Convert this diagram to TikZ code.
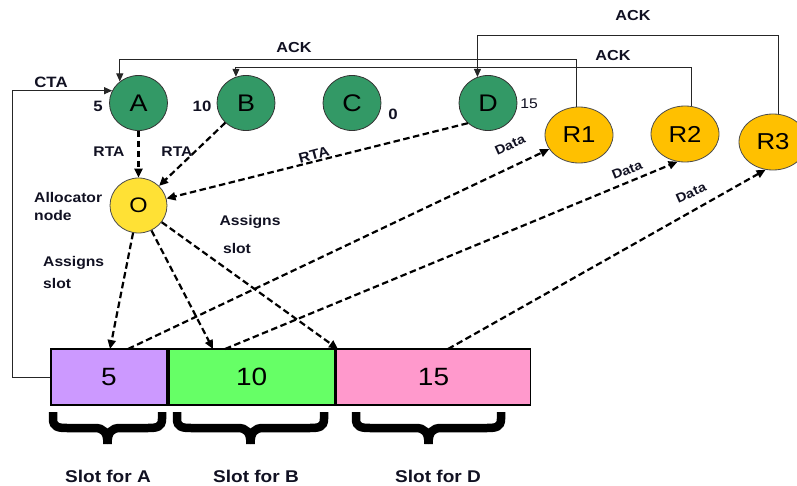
\documentclass[tikz,border=0pt]{standalone}
\usepackage{fontspec}
\setmainfont{Liberation Sans}[FakeStretch=1.12]
\usetikzlibrary{shapes.geometric,arrows.meta}
\definecolor{ngreen}{HTML}{339966}
\definecolor{nyellow}{HTML}{FFE135}
\definecolor{norange}{HTML}{FFC000}
\definecolor{spurple}{HTML}{CC99FF}
\definecolor{sgreen}{HTML}{66FF66}
\definecolor{spink}{HTML}{FF99CC}
\definecolor{txt}{HTML}{111122}
\newcommand{\slotbrace}[2]{%
  \draw[brc] (#1,412) -- (#1,419) .. controls (#1,427) and ({#1+5},428) .. ({#1+14},428)
     -- ({(#1+#2)/2-13},428) .. controls ({(#1+#2)/2-4},428) and ({(#1+#2)/2},432) .. ({(#1+#2)/2},444);
  \draw[brc] (#2,412) -- (#2,419) .. controls (#2,427) and ({#2-5},428) .. ({#2-14},428)
     -- ({(#1+#2)/2+13},428) .. controls ({(#1+#2)/2+4},428) and ({(#1+#2)/2},432) .. ({(#1+#2)/2},444);
}
\begin{document}
\begin{tikzpicture}[x=1pt,y=-1pt,
  gnode/.style={ellipse,draw=black!80,line width=0.8pt,fill=ngreen,minimum width=58pt,minimum height=55pt,inner sep=0pt,font=\fontsize{24}{26}\selectfont},
  rnode/.style={ellipse,draw=black!70,line width=0.8pt,fill=norange,minimum width=68pt,minimum height=56pt,inner sep=0pt,font=\fontsize{23}{25}\selectfont},
  onode/.style={ellipse,draw=black!70,line width=0.8pt,fill=nyellow,minimum width=57pt,minimum height=55pt,inner sep=0pt,font=\fontsize{21}{23}\selectfont},
  slotbox/.style={rectangle,draw=black,line width=1.8pt,minimum height=56pt,inner sep=0pt,anchor=west,font=\fontsize{25}{27}\selectfont},
  lbl/.style={font=\bfseries\fontsize{14}{16}\selectfont,text=txt,inner sep=0pt},
  datalbl/.style={font=\bfseries\fontsize{13}{15}\selectfont,text=txt,inner sep=0pt},
  numlbl/.style={font=\bfseries\fontsize{15}{17}\selectfont,text=txt,inner sep=0pt},
  slotlbl/.style={font=\bfseries\fontsize{17}{19}\selectfont,text=txt,inner sep=0pt},
  dsh/.style={line width=2.2pt,dash pattern=on 6.5pt off 3.5pt,-{Triangle[length=9pt,width=8pt]}},
  ack/.style={line width=0.9pt,draw=black!85,-{Triangle[length=8pt,width=7pt]}},
  brc/.style={line width=8.5pt,line cap=butt,line join=miter,draw=black}
]
\useasboundingbox (0,0) rectangle (797,486);

% nodes
\node[gnode] (A) at (138.5,103) {A};
\node[gnode] (B) at (246,103) {B};
\node[gnode] (C) at (352,103) {C};
\node[gnode] (D) at (488,103) {D};
\node[rnode] (R1) at (579,135) {R1};
\node[rnode] (R2) at (685,134) {R2};
\node[rnode] (R3) at (773,142) {R3};
\node[onode] (O) at (138.5,205.5) {O};

% slot bar
\node[slotbox,fill=spurple,minimum width=116pt] (s5) at (50,377) {5};
\node[slotbox,fill=sgreen,minimum width=166pt] (s10) at (s5.east) {10};
\node[slotbox,fill=spink,minimum width=194pt] (s15) at (s10.east) {15};

\coordinate (tA) at (110,349);
\coordinate (tB) at (213,349);
\coordinate (tD) at (338,349);
\coordinate (dA) at (128,349);
\coordinate (dB) at (225,349);
\coordinate (dD) at (448,349);

% numbers beside nodes
\node[numlbl] (n5) at (98,106) {5};
\node[numlbl] (n10) at (202,106) {10};
\node[numlbl] (n0) at (393,114) {0};
\node[font=\fontsize{14}{16}\selectfont,text=txt,inner sep=0pt] (n15) at (529,104) {15};

% CTA
\draw[ack] (s5.west) -- ++(-38,0) |- (A.155);
\node[lbl,font=\bfseries\fontsize{15}{17}\selectfont] (cta) at (51,82) {CTA};

% ACK lines
\draw[ack] ([xshift=-3pt]R1.north) -- ([xshift=-3pt]R1.north |- 0,59) -| (A.131);
\draw[ack] ([xshift=6pt]R2.north) -- ([xshift=6pt]R2.north |- 0,67) -| (B.111);
\draw[ack] ([xshift=5pt]R3.north) -- ([xshift=5pt]R3.north |- 0,35) -| (D.112);
\node[lbl,font=\bfseries\fontsize{14.5}{16}\selectfont] (ack1) at (294,48) {ACK};
\node[lbl,font=\bfseries\fontsize{14.5}{16}\selectfont] (ack2) at (613,56) {ACK};
\node[lbl,font=\bfseries\fontsize{14.5}{16}\selectfont] (ack3) at (633,16) {ACK};

% RTA arrows
\draw[dsh] (A.south) -- (O.north);
\draw[dsh] (B) -- (O);
\draw[dsh] (D.225) -- (O);
\node[lbl] (rta1) at (109,152) {RTA};
\node[lbl] (rta2) at (177,152) {RTA};
\node[lbl,rotate=15] (rta3) at (314,155) {RTA};

% Allocator label
\node[lbl,align=left,anchor=west,font=\bfseries\fontsize{14}{18}\selectfont] (alloc) at (34,206) {Allocator\\node};

% Assigns slot arrows
\draw[dsh] (O) -- (tA);
\draw[dsh] (O) -- (tB);
\draw[dsh] (O) -- (tD);
\node[lbl,align=left,anchor=west,font=\bfseries\fontsize{14}{22}\selectfont] (as1) at (43,272) {Assigns\\slot};
\node[lbl] (as2) at (250,222) {Assigns};
\node[lbl] (as3) at (237,248) {slot};

% Data arrows
\draw[dsh] (dA) -- (R1);
\draw[dsh] (dB) -- (R2.255);
\draw[dsh] (dD) -- (R3.255);
\node[datalbl,rotate=24] (da1) at (510,145) {Data};
\node[datalbl,rotate=22] (da2) at (627,170) {Data};
\node[datalbl,rotate=24] (da3) at (691,193) {Data};

% braces
\slotbrace{53}{162}
\slotbrace{177}{324}
\slotbrace{356}{501}
\node[slotlbl] (slA) at (108,476) {Slot for A};
\node[slotlbl] (slB) at (256,476) {Slot for B};
\node[slotlbl] (slD) at (438,476) {Slot for D};
\end{tikzpicture}
\end{document}
